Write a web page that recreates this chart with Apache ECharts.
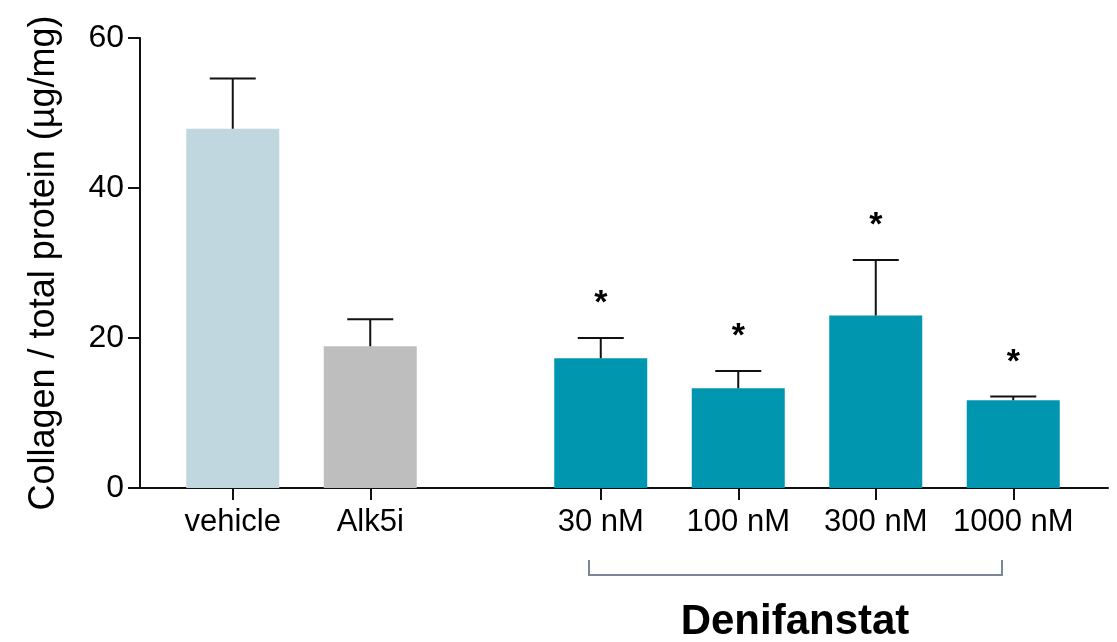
<!DOCTYPE html>
<html>
<head>
<meta charset="utf-8">
<script src="https://cdn.jsdelivr.net/npm/echarts@6/dist/echarts.min.js"></script>
<style>
  html, body { margin: 0; padding: 0; background: #fff; }
  #chart { width: 1117px; height: 642px; }
</style>
</head>
<body>
<div id="chart"></div>
<script>
// controls
const controlGroups = ["vehicle", "Alk5i"];
const controlMeans = [47.9, 18.9];
const controlSems = [6.7, 3.6];

// Denifanstat doses
const doseGroups = ["30 nM", "100 nM", "300 nM", "1000 nM"];
const doseMeans = [17.3, 13.3, 23.0, 11.7];
const doseSems = [2.7, 2.3, 7.4, 0.5];
const doseStars = ["*", "*", "*", "*"];

const yMax = 60;
const yStep = 20;
const yTitle = "Collagen / total protein (µg/mg)";
const drugName = "Denifanstat";

const FONT = "'Liberation Sans', Arial, Helvetica, sans-serif";
const colors = {
  vehicle: "#c0d7df",
  alk5i: "#bebebe",
  dose: "#0096b0",
  bracket: "#7c8796",
};

const chart = echarts.init(document.getElementById("chart"));

// error bar (upper only) + optional star above it
const errorBar = (stars) => (params, api) => {
  const i = api.value(0);
  const bot = api.coord([i, api.value(1)]);
  const top = api.coord([i, api.value(2)]);
  const half = 23;
  const children = [
    {
      type: "line",
      shape: { x1: bot[0], y1: bot[1], x2: top[0], y2: top[1] },
      style: { stroke: "#111", lineWidth: 2 },
    },
    {
      type: "line",
      shape: { x1: top[0] - half, y1: top[1], x2: top[0] + half, y2: top[1] },
      style: { stroke: "#111", lineWidth: 2 },
    },
  ];
  if (stars && stars[i]) {
    children.push({
      type: "text",
      style: {
        text: stars[i],
        x: top[0],
        y: top[1] - 34,
        align: "center",
        verticalAlign: "middle",
        font: "bold 34px " + FONT,
        fill: "#000",
      },
    });
  }
  return { type: "group", children };
};

const gridTop = 38;
const gridHeight = 450;

const catAxis = (gridIndex, data) => ({
  type: "category",
  gridIndex,
  data,
  axisLine: { show: false },
  axisTick: {
    show: true,
    alignWithLabel: true,
    length: 12,
    lineStyle: { color: "#111", width: 2 },
  },
  axisLabel: {
    color: "#000",
    fontSize: 31,
    fontFamily: FONT,
    margin: 19,
    interval: 0,
  },
  splitLine: { show: false },
});

const hiddenY = (gridIndex) => ({
  type: "value",
  gridIndex,
  min: 0,
  max: yMax,
  show: false,
});

const option = {
  backgroundColor: "#fff",
  animation: false,
  grid: [
    { left: 140, width: 968, top: gridTop, height: gridHeight },
    { left: 164, width: 275, top: gridTop, height: gridHeight },
    { left: 532, width: 550, top: gridTop, height: gridHeight },
  ],
  xAxis: [
    {
      type: "value",
      gridIndex: 0,
      min: 0,
      max: 1,
      axisLine: { show: true, lineStyle: { color: "#111", width: 2 } },
      axisTick: { show: false },
      axisLabel: { show: false },
      splitLine: { show: false },
    },
    catAxis(1, controlGroups),
    catAxis(2, doseGroups),
  ],
  yAxis: [
    {
      type: "value",
      gridIndex: 0,
      min: 0,
      max: yMax,
      interval: yStep,
      name: yTitle,
      nameLocation: "middle",
      nameRotate: 90,
      nameGap: 78,
      nameTextStyle: { color: "#000", fontSize: 36, fontFamily: FONT },
      axisLine: { show: true, lineStyle: { color: "#111", width: 2 } },
      axisTick: { show: true, length: 12, lineStyle: { color: "#111", width: 2 } },
      axisLabel: { color: "#000", fontSize: 32, fontFamily: FONT, margin: 16 },
      splitLine: { show: false },
    },
    hiddenY(1),
    hiddenY(2),
  ],
  series: [
    {
      type: "bar",
      xAxisIndex: 1,
      yAxisIndex: 1,
      barWidth: 93,
      data: controlMeans.map((v, i) => ({
        value: v,
        itemStyle: { color: i === 0 ? colors.vehicle : colors.alk5i },
      })),
    },
    {
      type: "custom",
      xAxisIndex: 1,
      yAxisIndex: 1,
      renderItem: errorBar(null),
      data: controlMeans.map((m, i) => [i, m, m + controlSems[i]]),
      z: 3,
    },
    {
      type: "bar",
      xAxisIndex: 2,
      yAxisIndex: 2,
      barWidth: 93,
      itemStyle: { color: colors.dose },
      data: doseMeans,
    },
    {
      type: "custom",
      xAxisIndex: 2,
      yAxisIndex: 2,
      renderItem: errorBar(doseStars),
      data: doseMeans.map((m, i) => [i, m, m + doseSems[i]]),
      z: 3,
    },
  ],
  graphic: [
    {
      type: "polyline",
      shape: { points: [[589, 560], [589, 575], [1002, 575], [1002, 560]] },
      style: { stroke: colors.bracket, lineWidth: 2, fill: null },
    },
    {
      type: "text",
      x: 795,
      y: 622,
      style: {
        text: drugName,
        align: "center",
        verticalAlign: "middle",
        font: "bold 42px " + FONT,
        fill: "#000",
      },
    },
  ],
};

chart.setOption(option);
</script>
</body>
</html>
